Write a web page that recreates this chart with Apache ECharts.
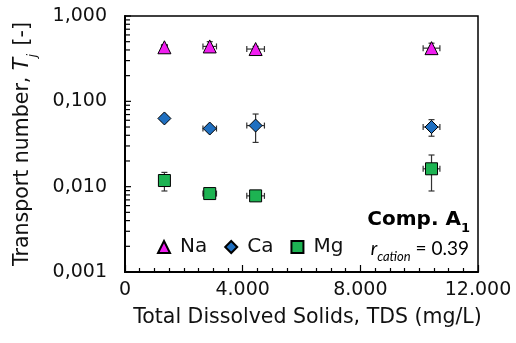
<!DOCTYPE html>
<html>
<head>
<meta charset="utf-8">
<script src="https://cdn.jsdelivr.net/npm/echarts@6/dist/echarts.min.js"></script>
<style>
  html, body { margin: 0; padding: 0; background: #fff; }
  #chart { width: 516px; height: 343px; }
</style>
</head>
<body>
<div id="chart"></div>
<script>
// Total dissolved solids of each sample (mg/L) and its uncertainty
const tds = [1340, 2880, 4440, 10420];
const tdsErr = [100, 230, 300, 285];

// Transport numbers per cation with their uncertainties
const naT = [0.43, 0.44, 0.41, 0.42];
const naErr = [0.03, 0.06, 0.03, 0.06];
const caT = [0.063, 0.048, 0.052, 0.050];
const caErr = [0.004, 0.003, 0.019, 0.011];
const mgT = [0.0118, 0.0083, 0.0078, 0.0162];
const mgErr = [0.0029, 0.0006, 0.0005, 0.0073];

// Axis ticks
const yMajorTicks = [0.001, 0.01, 0.1, 1];
const yMinorTicks = [
  0.002, 0.003, 0.004, 0.005, 0.006, 0.007, 0.008, 0.009,
  0.02, 0.03, 0.04, 0.05, 0.06, 0.07, 0.08, 0.09,
  0.2, 0.3, 0.4, 0.5, 0.6, 0.7, 0.8, 0.9
];

const FONT = "'DejaVu Sans', 'Liberation Sans', Arial, sans-serif";
const colors = { Na: '#f01ef0', Ca: '#1f6fc0', Mg: '#1db352' };

function points(ys) { return tds.map((x, i) => [x, ys[i]]); }
function errPoints(ys, es) { return tds.map((x, i) => [x, ys[i], tdsErr[i], es[i]]); }

// Error bars with caps, drawn through the axis scales
function renderErr(params, api) {
  const x = api.value(0), y = api.value(1), xe = api.value(2), ye = api.value(3);
  const l = api.coord([x - xe, y]), r = api.coord([x + xe, y]);
  const t = api.coord([x, y + ye]), b = api.coord([x, y - ye]);
  const cap = 3;
  const st = { stroke: '#333', lineWidth: 1.2 };
  const line = (x1, y1, x2, y2) => ({ type: 'line', shape: { x1, y1, x2, y2 }, style: st });
  return {
    type: 'group',
    children: [
      line(l[0], l[1], r[0], r[1]),
      line(l[0], l[1] - cap, l[0], l[1] + cap),
      line(r[0], r[1] - cap, r[0], r[1] + cap),
      line(t[0], t[1], b[0], b[1]),
      line(t[0] - cap, t[1], t[0] + cap, t[1]),
      line(b[0] - cap, b[1], b[0] + cap, b[1])
    ]
  };
}

// Logarithmic tick marks on the inside of the left axis
function renderLogTick(len) {
  return function (params, api) {
    const p = api.coord([0, api.value(0)]);
    const x0 = params.coordSys.x;
    return {
      type: 'line',
      shape: { x1: x0, y1: p[1], x2: x0 + len, y2: p[1] },
      style: { stroke: '#000', lineWidth: 1.2 }
    };
  };
}

const chart = echarts.init(document.getElementById('chart'), null, { renderer: 'canvas' });

const option = {
  animation: false,
  backgroundColor: '#fff',
  textStyle: { fontFamily: FONT },
  grid: {
    left: 125, right: 38, top: 16, bottom: 71,
    show: true, borderColor: '#000', borderWidth: 1.5, backgroundColor: 'transparent'
  },
  legend: {
    data: ['Na', 'Ca', 'Mg'],
    left: 152, top: 232,
    itemWidth: 12, itemHeight: 12, itemGap: 17,
    textStyle: { fontSize: 20, color: '#111', fontFamily: FONT, padding: [0, 0, 0, 5] }
  },
  xAxis: {
    type: 'value',
    min: 0, max: 12000, interval: 4000,
    name: 'Total Dissolved Solids, TDS (mg/L)',
    nameLocation: 'middle', nameGap: 35,
    nameTextStyle: { fontSize: 20.5, color: '#111', fontFamily: FONT, padding: [0, 0, 0, 12] },
    axisLine: { show: true, onZero: false, lineStyle: { color: '#000', width: 2 } },
    axisTick: { show: true, inside: true, length: 7, lineStyle: { color: '#000', width: 1.2 } },
    minorTick: { show: true, splitNumber: 8, length: 4, lineStyle: { color: '#000', width: 1.2 } },
    axisLabel: {
      fontSize: 19, color: '#111', margin: 9, fontFamily: FONT,
      formatter: v => v === 0 ? '0' : String(v).replace(/\B(?=(\d{3})+(?!\d))/g, '.')
    },
    splitLine: { show: false }
  },
  yAxis: {
    type: 'log', logBase: 10,
    min: 0.001, max: 1,
    name: '{n|Transport number, }{i|T}{s|j}{n| [-]}',
    nameLocation: 'middle', nameGap: 92, nameRotate: 90,
    nameTextStyle: {
      rich: {
        n: { fontSize: 20.5, color: '#111', fontFamily: FONT },
        i: { fontSize: 20.5, color: '#111', fontFamily: FONT, fontStyle: 'italic' },
        s: { fontSize: 13, color: '#111', fontFamily: FONT, fontStyle: 'italic', verticalAlign: 'bottom', padding: [0, 2, -6, 0] }
      }
    },
    axisLine: { show: true, lineStyle: { color: '#000', width: 2 } },
    axisTick: { show: false },
    axisLabel: {
      fontSize: 19, color: '#111', margin: 18, fontFamily: FONT,
      formatter: v => v.toFixed(3).replace('.', ',')
    },
    splitLine: { show: false }
  },
  graphic: [
    {
      type: 'text', x: 470, y: 230, z: 100,
      style: {
        text: '{b|Comp. A}{sb|1}',
        align: 'right', verticalAlign: 'bottom',
        rich: {
          b: { fontSize: 20, fontWeight: 'bold', fill: '#000', fontFamily: FONT },
          sb: { fontSize: 13, fontWeight: 'bold', fill: '#000', fontFamily: FONT, verticalAlign: 'bottom', padding: [0, 0, -5, 0] }
        }
      }
    },
    {
      type: 'text', x: 469, y: 258, z: 100,
      style: {
        text: '{r|r}{c|cation}{v| = 0.39}',
        align: 'right', verticalAlign: 'bottom',
        rich: {
          r: { fontSize: 19, fontStyle: 'italic', fill: '#000', fontFamily: 'Lato, sans-serif' },
          c: { fontSize: 13, fontStyle: 'italic', fill: '#000', fontFamily: 'Lato, sans-serif', verticalAlign: 'bottom', padding: [0, 0, -5, 0] },
          v: { fontSize: 19, fill: '#000', fontFamily: 'Lato, sans-serif' }
        }
      }
    }
  ],
  series: [
    { type: 'custom', name: 'logMajor', renderItem: renderLogTick(6), data: yMajorTicks.map(v => [v]), encode: { y: 0 }, silent: true, z: 1 },
    { type: 'custom', name: 'logMinor', renderItem: renderLogTick(5), data: yMinorTicks.map(v => [v]), encode: { y: 0 }, silent: true, z: 1 },
    { type: 'custom', name: 'errNa', renderItem: renderErr, data: errPoints(naT, naErr), encode: { x: 0, y: 1 }, silent: true, z: 2 },
    { type: 'custom', name: 'errCa', renderItem: renderErr, data: errPoints(caT, caErr), encode: { x: 0, y: 1 }, silent: true, z: 2 },
    { type: 'custom', name: 'errMg', renderItem: renderErr, data: errPoints(mgT, mgErr), encode: { x: 0, y: 1 }, silent: true, z: 2 },
    {
      type: 'scatter', name: 'Na', data: points(naT), symbol: 'triangle', symbolSize: 13, z: 5,
      itemStyle: { color: colors.Na, borderColor: '#000', borderWidth: 1, opacity: 1 }
    },
    {
      type: 'scatter', name: 'Ca', data: points(caT), symbol: 'diamond', symbolSize: 13, z: 5,
      itemStyle: { color: colors.Ca, borderColor: '#000', borderWidth: 1, opacity: 1 }
    },
    {
      type: 'scatter', name: 'Mg', data: points(mgT), symbol: 'rect', symbolSize: 12, z: 5,
      itemStyle: { color: colors.Mg, borderColor: '#000', borderWidth: 1, opacity: 1 }
    }
  ]
};

chart.setOption(option);
</script>
</body>
</html>
